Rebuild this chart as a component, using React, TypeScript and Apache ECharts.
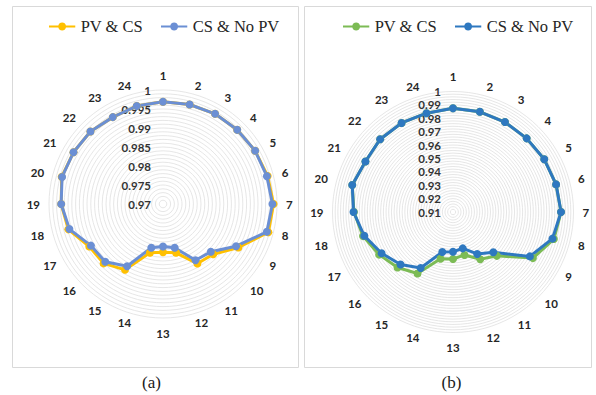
import React, { useEffect, useRef } from "react";
import * as echarts from "echarts";

const categories = ["1", "2", "3", "4", "5", "6", "7", "8", "9", "10", "11", "12", "13", "14", "15", "16", "17", "18", "19", "20", "21", "22", "23", "24"];
const seriesNames = ["PV & CS", "CS & No PV"];

// (a)
const aPvCs = [0.9969, 0.9971, 0.9974, 0.9976, 0.998, 0.9985, 0.9991, 0.9987, 0.9929, 0.9887, 0.9881, 0.9833, 0.9827, 0.9833, 0.99, 0.9921, 0.9924, 0.9958, 0.9968, 0.9976, 0.9972, 0.997, 0.9964, 0.9967];
const aCsNoPv = [0.9969, 0.9971, 0.9974, 0.9976, 0.998, 0.9983, 0.9988, 0.9983, 0.9922, 0.9878, 0.9871, 0.9819, 0.9812, 0.9819, 0.9889, 0.9915, 0.9919, 0.9955, 0.9968, 0.9975, 0.9972, 0.997, 0.9964, 0.9967];
const aRange = [0.97, 1];
const aLabelStep = 0.005;

// (b)
const bPvCs = [0.9875, 0.9875, 0.9876, 0.9878, 0.9887, 0.9897, 0.9907, 0.988, 0.9789, 0.9563, 0.9507, 0.9432, 0.9451, 0.9461, 0.963, 0.9686, 0.9737, 0.9796, 0.984, 0.9879, 0.9855, 0.9869, 0.9868, 0.9864];
const bCsNoPv = [0.9875, 0.9875, 0.9876, 0.9878, 0.9887, 0.9897, 0.9907, 0.9869, 0.9763, 0.9526, 0.9462, 0.9381, 0.9397, 0.9409, 0.9583, 0.9654, 0.9716, 0.9786, 0.9843, 0.9879, 0.9855, 0.9869, 0.9868, 0.9864];
const bRange = [0.91, 1];
const bLabelStep = 0.01;

// radar runs counter-clockwise: order indicators 1, 24, 23, ... 2 so the chart reads clockwise
const order = categories.map((_, k) => (k === 0 ? 0 : categories.length - k));

// legend icon: a short line with a round marker in the middle (27 x 8 box)
const legendIcon =
  "path://M0,3 L9.6,3 A4,4 0 0 1 17.4,3 L27,3 L27,5 L17.4,5 A4,4 0 0 1 9.6,5 L0,5 Z";

type Cfg = {
  left: number;
  width: number;
  pv: number[];
  cs: number[];
  range: number[];
  step: number;
  splits: number;
  colors: string[];
  center: number[];
  radius: number;
  legendLeft: number;
  box: number[];
  caption: string;
  captionX: number;
};

const serif = "'Liberation Serif', 'Times New Roman', serif";

function RadarPanel(props: { cfg: Cfg }) {
  const ref = useRef<HTMLDivElement>(null);
  const cfg = props.cfg;
  useEffect(() => {
    if (!ref.current) return;
    const chart = echarts.init(ref.current, undefined, { renderer: "svg" });
    const labelFont = { fontFamily: "Lato", fontWeight: "bold" as const, fontSize: 11.5, color: "#333333" };
    const indicator = order.map((idx, k) => {
      const ind: any = { name: categories[idx], min: cfg.range[0], max: cfg.range[1] };
      if (k === 0) {
        ind.axisLabel = {
          show: true,
          margin: 12,
          ...labelFont,
          formatter: (v: number) => {
            const m = Math.round(v * 10000);
            const s = Math.round(cfg.step * 10000);
            return m % s === 0 ? String(m / 10000) : "";
          },
        };
      }
      return ind;
    });
    const pv = order.map((i) => cfg.pv[i]);
    const cs = order.map((i) => cfg.cs[i]);
    chart.setOption({
      animation: false,
      graphic: [
        {
          type: "rect",
          shape: { x: cfg.box[0], y: cfg.box[1], width: cfg.box[2], height: cfg.box[3] },
          style: { fill: "none", stroke: "#d9d9d9", lineWidth: 1 },
          silent: true,
        },
        {
          type: "text",
          x: cfg.captionX,
          y: 382,
          style: {
            text: cfg.caption,
            font: "17px " + serif,
            fill: "#1a1a1a",
            textAlign: "center",
            textVerticalAlign: "middle",
          },
        },
      ],
      legend: {
        left: cfg.legendLeft,
        top: 13,
        itemWidth: 27,
        itemHeight: 8,
        itemGap: 18,
        data: seriesNames.map((n, i) => ({ name: n, icon: legendIcon, itemStyle: { color: cfg.colors[i] } })),
        textStyle: { fontFamily: serif, fontSize: 16.5, color: "#262626" },
      },
      radar: {
        center: cfg.center,
        radius: cfg.radius,
        startAngle: 90,
        shape: "circle",
        splitNumber: cfg.splits,
        indicator,
        axisName: { ...labelFont, color: "#262626" },
        nameGap: 9,
        axisLine: { show: false },
        axisTick: { show: false },
        axisLabel: { show: false },
        splitArea: { show: false },
        splitLine: { lineStyle: { color: "#e0e0e0", width: 0.8 } },
      },
      series: [
        {
          type: "radar",
          symbol: "circle",
          symbolSize: 8,
          data: [
            {
              name: seriesNames[0],
              value: pv,
              itemStyle: { color: cfg.colors[0] },
              lineStyle: { color: cfg.colors[0], width: 3 },
            },
            {
              name: seriesNames[1],
              value: cs,
              itemStyle: { color: cfg.colors[1] },
              lineStyle: { color: cfg.colors[1], width: 3 },
            },
          ],
        },
      ],
    });
    return () => chart.dispose();
  }, []);
  return (
    <div
      ref={ref}
      style={{ position: "absolute", left: cfg.left, top: 0, width: cfg.width, height: 395 }}
    />
  );
}

export default function App() {
  const a: Cfg = {
    left: 0,
    width: 300,
    pv: aPvCs,
    cs: aCsNoPv,
    range: aRange,
    step: aLabelStep,
    splits: 30,
    colors: ["#FFC000", "#6B8FD4"],
    center: [163, 204],
    radius: 114,
    legendLeft: 44,
    box: [12.5, 6.5, 286, 361],
    caption: "(a)",
    captionX: 151.5,
  };
  const b: Cfg = {
    left: 300,
    width: 296,
    pv: bPvCs,
    cs: bCsNoPv,
    range: bRange,
    step: bLabelStep,
    splits: 45,
    colors: ["#7CBB55", "#2E78C0"],
    center: [153, 212],
    radius: 120.5,
    legendLeft: 38,
    box: [4.5, 6.5, 287, 361],
    caption: "(b)",
    captionX: 151.5,
  };
  return (
    <div style={{ position: "fixed", left: 0, top: 0, width: 596, height: 395, background: "#fff" }}>
      <RadarPanel cfg={a} />
      <RadarPanel cfg={b} />
    </div>
  );
}
